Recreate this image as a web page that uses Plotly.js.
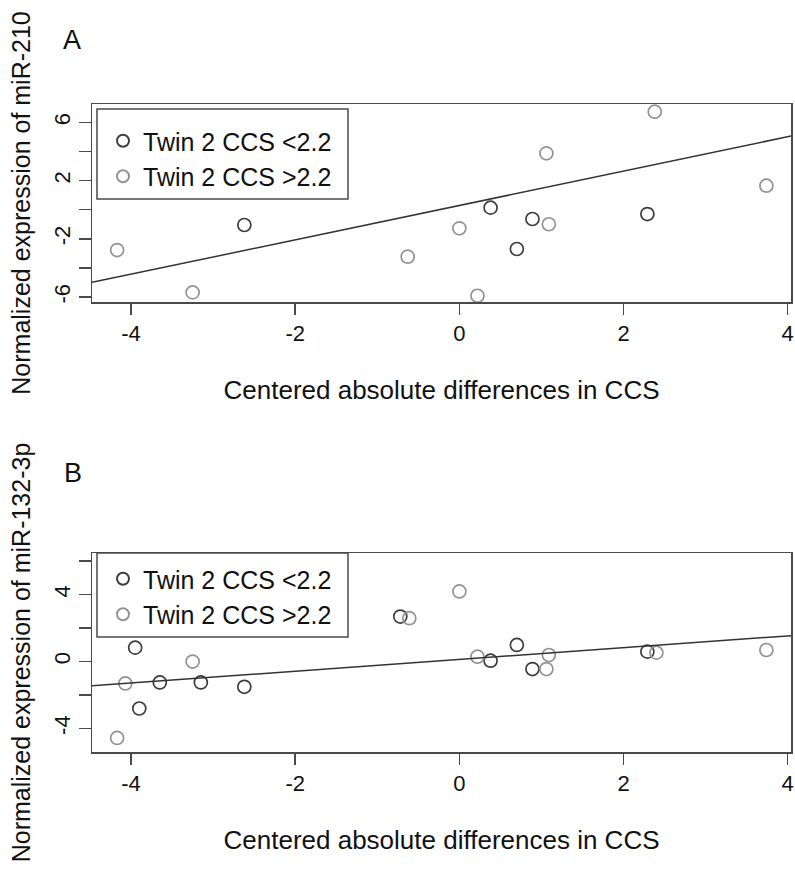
<!DOCTYPE html>
<html>
<head>
<meta charset="utf-8">
<script src="https://cdn.plot.ly/plotly-3.0.1.min.js"></script>
<style>html,body{margin:0;padding:0;background:#fff;}#chart{width:795px;height:869px;}</style>
</head>
<body>
<div id="chart"></div>
<script>
// ---- Data ----
const groupLabels = ["Twin 2 CCS <2.2", "Twin 2 CCS >2.2"];
const panelLetters = ["A", "B"];
const yTitles = ["Normalized expression of miR-210", "Normalized expression of miR-132-3p"];
const xTitle = "Centered absolute differences in CCS";

// Panel A: miR-210
const a_lowX  = [-2.62, 0.38, 0.89, 0.70, 2.29];
const a_lowY  = [-1.05, 0.14, -0.64, -2.70, -0.30];
const a_highX = [-4.17, -3.25, -0.63, 0.00, 0.22, 1.06, 1.09, 2.38, 3.74];
const a_highY = [-2.77, -5.68, -3.23, -1.28, -5.91, 3.87, -1.00, 6.73, 1.65];
const a_fit   = [0.29, 1.18];      // intercept, slope

// Panel B: miR-132-3p
const b_lowX  = [-3.95, -3.65, -3.15, -2.62, -3.90, -0.72, 0.38, 0.70, 0.89, 2.29];
const b_lowY  = [0.83, -1.25, -1.25, -1.51, -2.81, 2.69, 0.05, 0.99, -0.45, 0.59];
const b_highX = [-3.25, -4.07, -4.17, -0.61, 0.00, 0.22, 1.09, 1.06, 2.40, 3.74];
const b_highY = [0.00, -1.31, -4.57, 2.59, 4.19, 0.29, 0.39, -0.45, 0.53, 0.69];
const b_fit   = [0.126, 0.352];

const xTickVals = [-4, -2, 0, 2, 4];
const xTickText = ["-4", "-2", "0", "2", "4"];
const aYTickVals = [-6, -4, -2, 0, 2, 4, 6];
const aYTickText = ["-6", "", "-2", "", "2", "", "6"];
const bYTickVals = [-4, -2, 0, 2, 4, 6];
const bYTickText = ["-4", "", "0", "", "4", ""];

// ---- Styling ----
const FONT = "Liberation Sans, Arial, Helvetica, sans-serif";
const DARK = "#3d3d3d";
const LIGHT = "#939393";
const AX = "#4a4a4a";
const xRange = [-4.476, 4.04];
const aYRange = [-6.34, 7.26];
const bYRange = [-5.41, 6.49];

const W = 795, H = 869, ML = 92, MR = 4, MT = 104, MB = 117;
const PW = W - ML - MR, PH = H - MT - MB;
const px = v => (v - ML) / PW;
const py = v => 1 - (v - MT) / PH;

function pts(x, y, color, name, xa, ya, leg) {
  return {type: "scatter", mode: "markers", x: x, y: y, name: name,
    xaxis: xa, yaxis: ya, legend: leg, showlegend: true,
    marker: {symbol: "circle-open", size: 13, color: color, line: {width: 1.7, color: color}},
    hoverinfo: "x+y"};
}
function fitLine(fit, xa, ya) {
  const xs = [xRange[0], xRange[1]];
  return {type: "scatter", mode: "lines", x: xs, y: xs.map(v => fit[0] + fit[1] * v),
    xaxis: xa, yaxis: ya, showlegend: false, hoverinfo: "skip",
    line: {color: "#333", width: 1.5}};
}

const data = [
  pts(a_lowX, a_lowY, DARK, groupLabels[0], "x", "y", "legend"),
  pts(a_highX, a_highY, LIGHT, groupLabels[1], "x", "y", "legend"),
  fitLine(a_fit, "x", "y"),
  pts(b_lowX, b_lowY, DARK, groupLabels[0], "x2", "y2", "legend2"),
  pts(b_highX, b_highY, LIGHT, groupLabels[1], "x2", "y2", "legend2"),
  fitLine(b_fit, "x2", "y2")
];

function xAxis(anchor) {
  return {anchor: anchor, domain: [0, 1], range: xRange, tickvals: xTickVals, ticktext: xTickText,
    showline: true, mirror: true, linecolor: AX, linewidth: 1.5,
    ticks: "outside", ticklen: 11, tickwidth: 1.5, tickcolor: AX,
    showgrid: false, zeroline: false,
    tickfont: {family: FONT, size: 22, color: "#111"},
    title: {text: xTitle, font: {family: FONT, size: 26, color: "#111"}, standoff: 36}};
}
function yAxis(anchor, domain, range, tv, tt, title) {
  return {anchor: anchor, domain: domain, range: range, tickvals: tv, ticktext: tt,
    tickangle: -90,
    showline: true, mirror: true, linecolor: AX, linewidth: 1.5,
    ticks: "outside", ticklen: 12, tickwidth: 1.5, tickcolor: AX,
    showgrid: false, zeroline: false,
    tickfont: {family: FONT, size: 22, color: "#111"},
    title: {text: title, font: {family: FONT, size: 25, color: "#111"}, standoff: 12}};
}

const legendBase = {bgcolor: "rgba(0,0,0,0)", borderwidth: 0, xanchor: "left", yanchor: "top",
  font: {family: FONT, size: 25, color: "#111"}, itemsizing: "constant", tracegroupgap: 0};

const layout = {
  width: W, height: H,
  margin: {l: ML, r: MR, t: MT, b: MB, pad: 0},
  paper_bgcolor: "#fff", plot_bgcolor: "#fff",
  xaxis: xAxis("y"),
  yaxis: yAxis("x", [py(302), 1], aYRange, aYTickVals, aYTickText, yTitles[0]),
  xaxis2: xAxis("y2"),
  yaxis2: yAxis("x2", [0, py(553)], bYRange, bYTickVals, bYTickText, yTitles[1]),
  legend: Object.assign({}, legendBase, {x: px(103), y: py(118)}),
  legend2: Object.assign({}, legendBase, {x: px(103), y: py(556)}),
  shapes: [
    {type: "rect", xref: "paper", yref: "paper", x0: px(97), x1: px(348), y0: py(199), y1: py(109),
     line: {color: AX, width: 1.5}, fillcolor: "rgba(0,0,0,0)", layer: "above"},
    {type: "rect", xref: "paper", yref: "paper", x0: px(97), x1: px(348), y0: py(637), y1: py(553),
     line: {color: AX, width: 1.5}, fillcolor: "rgba(0,0,0,0)", layer: "above"}
  ],
  annotations: [
    {text: panelLetters[0], xref: "paper", yref: "paper", x: px(72), y: py(40), showarrow: false,
     xanchor: "center", yanchor: "middle", font: {family: FONT, size: 27, color: "#111"}},
    {text: panelLetters[1], xref: "paper", yref: "paper", x: px(73), y: py(473), showarrow: false,
     xanchor: "center", yanchor: "middle", font: {family: FONT, size: 27, color: "#111"}}
  ],
  showlegend: true
};

Plotly.newPlot("chart", data, layout, {displayModeBar: false, staticPlot: true});
</script>
</body>
</html>
